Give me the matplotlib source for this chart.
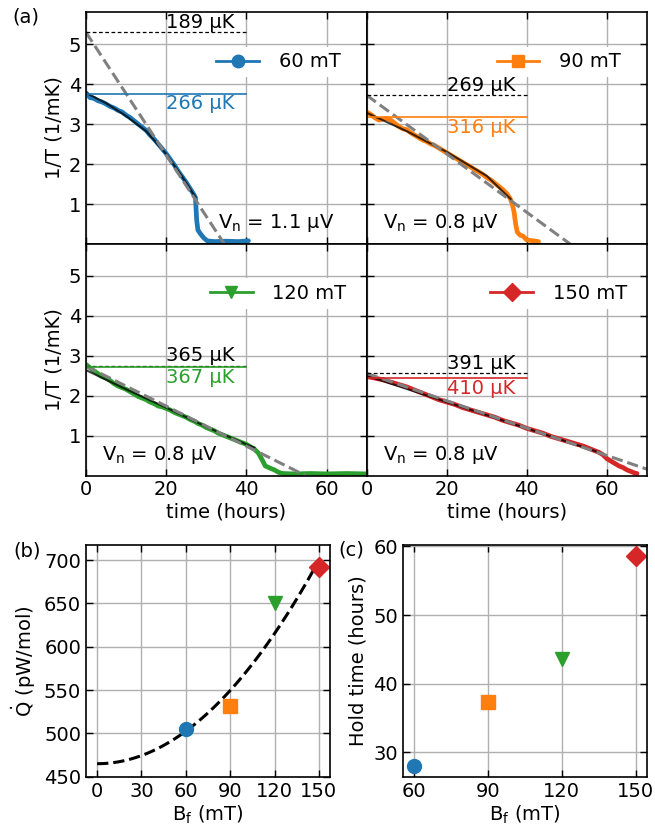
import numpy as np
import matplotlib.pyplot as plt

plt.rcParams['font.size'] = 14

# ---- panel (a): 1/T vs time for each field ----
fields = ["60 mT", "90 mT", "120 mT", "150 mT"]
colors = ["#1f77b4", "#ff7f0e", "#2ca02c", "#d62728"]
markers = ["o", "s", "v", "D"]

t_60 = [0.0, 0.5, 1.0, 2.0, 3.0, 4.0, 5.0, 6.0, 7.0, 8.0, 9.0, 10.0, 11.0, 12.0,
        13.0, 14.0, 15.0, 16.0, 17.0, 18.0, 19.0, 20.0, 21.0, 22.0, 23.0, 24.0,
        25.0, 26.0, 27.0, 27.3, 27.6, 27.9, 28.5, 29.3, 30.2, 32.0, 35.0, 38.0, 40.5]
y_60 = [3.78, 3.72, 3.66, 3.64, 3.58, 3.55, 3.50, 3.44, 3.40, 3.34, 3.30, 3.22, 3.16, 3.08,
        3.00, 2.92, 2.84, 2.72, 2.62, 2.50, 2.38, 2.26, 2.12, 1.98, 1.82, 1.68,
        1.54, 1.38, 1.22, 1.16, 0.60, 0.35, 0.26, 0.16, 0.08, 0.06, 0.07, 0.06, 0.08]
t_90 = [0, 1, 2, 3, 4, 5, 6, 7, 8, 9, 10, 11, 12, 13, 14, 15, 16, 17, 18, 19, 20,
        21, 22, 23, 24, 25, 26, 27, 28, 29, 30, 31, 32, 33, 34, 35, 35.8, 36.3,
        36.8, 37.2, 37.6, 38.3, 39.0, 40.0, 41.5, 42.9]
y_90 = [3.30, 3.24, 3.16, 3.10, 3.12, 3.14, 3.10, 3.02, 2.94, 2.88, 2.86, 2.78, 2.72,
        2.66, 2.60, 2.56, 2.50, 2.46, 2.40, 2.34, 2.28, 2.22, 2.16, 2.10, 2.04, 1.98,
        1.92, 1.86, 1.80, 1.74, 1.66, 1.60, 1.52, 1.44, 1.36, 1.26, 1.14, 1.02,
        0.80, 0.50, 0.30, 0.22, 0.20, 0.10, 0.08, 0.06]
t_120 = [0, 1, 2, 3, 4, 5, 6, 7, 8, 9, 10, 11, 12, 13, 14, 15, 16, 17, 18, 19, 20,
         21, 22, 23, 24, 25, 26, 27, 28, 29, 30, 31, 32, 33, 34, 35, 36, 37, 38, 39,
         40, 41, 42, 43, 44, 44.7, 46, 47, 48, 49, 52, 56, 60, 65, 70]
y_120 = [2.78, 2.70, 2.62, 2.55, 2.48, 2.44, 2.38, 2.30, 2.24, 2.20, 2.16, 2.10, 2.04,
         1.98, 1.94, 1.90, 1.84, 1.80, 1.74, 1.72, 1.68, 1.64, 1.58, 1.54, 1.50, 1.46,
         1.40, 1.36, 1.30, 1.26, 1.20, 1.16, 1.12, 1.06, 1.02, 0.98, 0.94, 0.90, 0.86,
         0.82, 0.78, 0.72, 0.66, 0.56, 0.38, 0.24, 0.18, 0.14, 0.08, 0.05, 0.04, 0.05,
         0.04, 0.05, 0.04]
t_150 = [0, 2, 4, 6, 8, 10, 12, 14, 16, 18, 20, 22, 24, 26, 28, 30, 32, 34, 36, 38,
         40, 42, 44, 46, 48, 50, 52, 54, 56, 58, 59, 60, 61, 62, 63, 64, 65, 66, 67, 67.5]
y_150 = [2.48, 2.44, 2.40, 2.34, 2.28, 2.22, 2.14, 2.06, 1.98, 1.90, 1.84, 1.78, 1.70,
         1.64, 1.58, 1.52, 1.46, 1.38, 1.32, 1.26, 1.18, 1.12, 1.06, 0.98, 0.92, 0.86,
         0.80, 0.74, 0.66, 0.58, 0.52, 0.42, 0.36, 0.30, 0.24, 0.20, 0.14, 0.10, 0.06, 0.05]

# fitted curves drawn over the data
fit_t_60 = [0, 5, 10, 15, 20, 24, 27.3]
fit_y_60 = [3.78, 3.52, 3.20, 2.82, 2.25, 1.68, 1.17]
fit_t_90 = [0, 10, 20, 30, 36]
fit_y_90 = [3.28, 2.82, 2.30, 1.70, 1.12]
fit_t_120 = [0, 10, 20, 30, 40, 42]
fit_y_120 = [2.64, 2.16, 1.70, 1.22, 0.78, 0.70]
fit_t_150 = [0, 20, 40, 58]
fit_y_150 = [2.50, 1.84, 1.18, 0.58]

# extrapolated temperature (black) and hold temperature (colour), in uK
T_ext = [189, 269, 365, 391]
T_hold = [266, 316, 367, 410]
t_zero = [34.5, 50.8, 54.7, 74.6]   # where the grey extrapolation hits zero
Vn = ["1.1", "0.8", "0.8", "0.8"]

# ---- panels (b) and (c) ----
B_f = [60, 90, 120, 150]
Qdot = [505, 532, 651, 692]
hold_time = [28.0, 37.4, 43.6, 58.6]
q0, q2 = 465, 0.01044   # quadratic fit Q = q0 + q2*B^2

t_data = [t_60, t_90, t_120, t_150]
y_data = [y_60, y_90, y_120, y_150]
fit_t = [fit_t_60, fit_t_90, fit_t_120, fit_t_150]
fit_y = [fit_y_60, fit_y_90, fit_y_120, fit_y_150]

fig = plt.figure(figsize=(6.55, 8.31), dpi=100)

W, H = 655, 831
def box(x0, y0, x1, y1):
    return [x0 / W, 1 - y1 / H, (x1 - x0) / W, (y1 - y0) / H]

pos = [box(86, 12, 366.7, 244), box(366.7, 12, 647, 244),
       box(86, 244, 366.7, 475.5), box(366.7, 244, 647, 475.5)]

def style(ax):
    ax.grid(True, color='#b0b0b0', lw=1)
    ax.set_axisbelow(True)
    ax.tick_params(direction='in', top=True, right=True, length=5, width=1)
    for s in ax.spines.values():
        s.set_linewidth(1.2)

for i in range(4):
    ax = fig.add_axes(pos[i])
    style(ax)
    c = colors[i]
    ax.plot(t_data[i], y_data[i], color=c, lw=3.4, solid_capstyle='round')
    ax.plot(fit_t[i], fit_y[i], color='black', lw=1.5, alpha=0.75)
    y0 = 1000 / T_ext[i]
    ax.plot([0, t_zero[i]], [y0, 0], color='gray', lw=2.2, ls='--')
    ax.plot([0, 40], [y0, y0], color='black', lw=0.9, ls=(0, (3, 2)))
    y1 = 1000 / T_hold[i]
    ax.plot([0, 40], [y1, y1], color=c, lw=1.2)
    ax.text(20, y0 + 0.02, f"{T_ext[i]} µK", color='black', ha='left', va='bottom')
    ax.text(20, y1 - 0.02, f"{T_hold[i]} µK", color=c, ha='left', va='top')
    ax.plot([], [], color=c, marker=markers[i], ms=9, lw=2, label=fields[i])
    ax.legend(loc='center', bbox_to_anchor=(0.685, 0.785), frameon=True,
              edgecolor='none', framealpha=1, fancybox=False,
              handlelength=2.2, handletextpad=1.0, borderpad=0.3)
    if i == 0:
        ax.text(0.885, 0.09, r"V$_\mathrm{n}$ = " + Vn[i] + " µV",
                transform=ax.transAxes, ha='right', va='center')
    else:
        ax.text(0.057, 0.09, r"V$_\mathrm{n}$ = " + Vn[i] + " µV",
                transform=ax.transAxes, ha='left', va='center')
    ax.set_xlim(0, 70)
    ax.set_ylim(0, 5.8)
    ax.set_xticks([0, 20, 40, 60])
    ax.set_yticks([1, 2, 3, 4, 5])
    if i < 2:
        ax.set_xticklabels([])
    else:
        ax.set_xlabel("time (hours)", labelpad=2)
    if i % 2 == 1:
        ax.set_yticklabels([])
    else:
        ax.set_ylabel("1/T (1/mK)")

# (b) heat leak vs field
axb = fig.add_axes(box(86, 545, 330, 776.7))
style(axb)
B_fit = np.linspace(0, 150, 100)
axb.plot(B_fit, q0 + q2 * B_fit ** 2, color='black', lw=2.2, ls='--')
for i in range(4):
    axb.plot(B_f[i], Qdot[i], marker=markers[i], color=colors[i], ms=10, ls='none')
axb.set_xlim(-7.5, 157.5)
axb.set_ylim(450, 717.5)
axb.set_xticks([0, 30, 60, 90, 120, 150])
axb.set_yticks([450, 500, 550, 600, 650, 700])
axb.set_xlabel(r"B$_\mathrm{f}$ (mT)", labelpad=2)
axb.set_ylabel(r"$\dot{\mathrm{Q}}$ (pW/mol)")

# (c) hold time vs field
axc = fig.add_axes(box(402.7, 545, 646.7, 776.7))
style(axc)
for i in range(4):
    axc.plot(B_f[i], hold_time[i], marker=markers[i], color=colors[i], ms=10, ls='none')
axc.set_xlim(55.5, 154.5)
axc.set_ylim(26.45, 60.2)
axc.set_xticks([60, 90, 120, 150])
axc.set_yticks([30, 40, 50, 60])
axc.set_xlabel(r"B$_\mathrm{f}$ (mT)", labelpad=2)
axc.set_ylabel("Hold time (hours)")

fig.text(12 / W, 1 - 17 / H, "(a)", ha='left', va='center')
fig.text(13 / W, 1 - 551 / H, "(b)", ha='left', va='center')
fig.text(338 / W, 1 - 550 / H, "(c)", ha='left', va='center')

fig.savefig("out.png", dpi=100)
